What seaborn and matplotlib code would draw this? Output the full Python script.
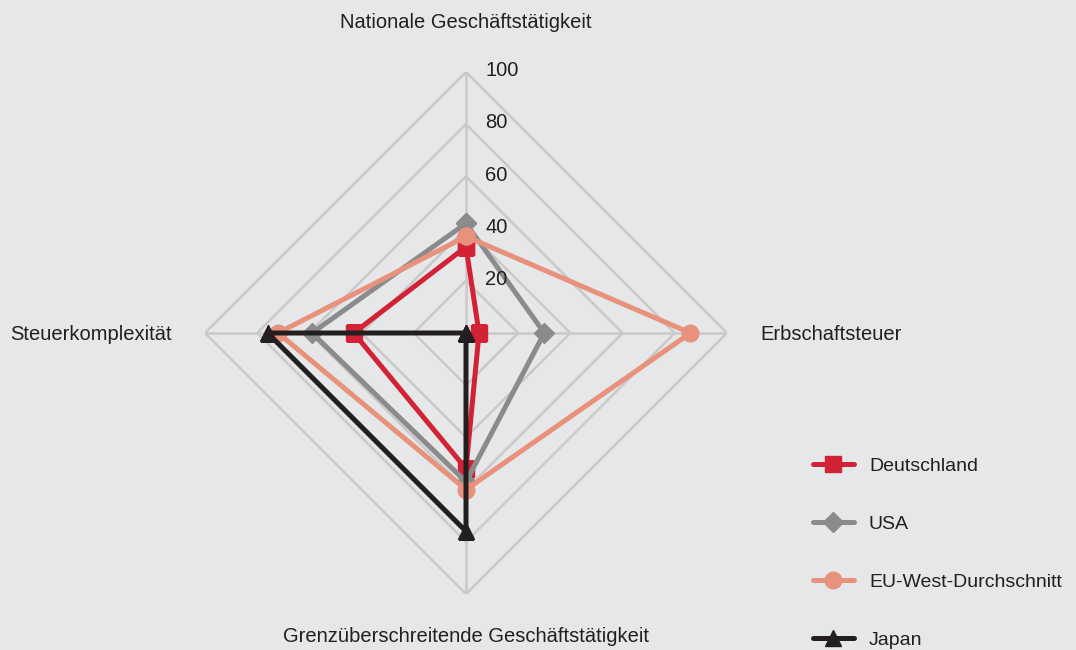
import numpy as np
import matplotlib

matplotlib.use("Agg")
import matplotlib.pyplot as plt
import seaborn as sns
from matplotlib.lines import Line2D

# ===================== data =====================
categories = ["Nationale Geschäftstätigkeit", "Erbschaftsteuer",
              "Grenzüberschreitende Geschäftstätigkeit", "Steuerkomplexität"]
deutschland = [33, 5, 52, 43]
usa = [42, 30, 57, 59]
eu_west = [37, 86, 60, 72]
japan = [0, 0, 76, 76]
r_ticks = [20, 40, 60, 80, 100]

series = [
    ("Deutschland", deutschland, "#d12236", "s"),
    ("USA", usa, "#8a8b8d", "D"),
    ("EU-West-Durchschnitt", eu_west, "#e8927d", "o"),
    ("Japan", japan, "#231f20", "^"),
]

bg = "#e6e7e8"
grid_c = "#c9c9ca"
text_c = "#231f20"
fs = 14.5

sns.set_theme(style="white")
plt.rcParams["font.family"] = ["Liberation Sans", "DejaVu Sans"]

fig = plt.figure(figsize=(10.76, 6.5), dpi=100, facecolor=bg)
cx, cy, rad = 466, 333, 261
ax = fig.add_axes([(cx - rad) / 1076, (650 - cy - rad) / 650, 2 * rad / 1076, 2 * rad / 650],
                  projection="polar")
ax.set_facecolor(bg)
ax.set_theta_offset(np.pi / 2)
ax.set_theta_direction(-1)
ax.set_ylim(0, 100)
ax.grid(False)
ax.spines["polar"].set_visible(False)
ax.set_xticks([])
ax.set_yticks([])

angles = np.linspace(0, 2 * np.pi, len(categories), endpoint=False)
closed = np.append(angles, angles[0])

# diamond grid + spokes
for r in r_ticks:
    ax.plot(closed, [r] * len(closed), color=grid_c, lw=1.8, zorder=1)
for a in angles:
    ax.plot([a, a], [0, 100], color=grid_c, lw=1.8, zorder=1)
for r in r_ticks:
    ax.annotate(str(r), xy=(0, r), xytext=(14, 1), textcoords="offset points",
                ha="left", va="center", fontsize=fs, color=text_c, zorder=5)

# series
for name, vals, col, mk in series:
    v = vals + vals[:1]
    ax.plot(closed, v, color=col, lw=3.6, marker=mk, markersize=12 if mk != "D" else 10,
            solid_capstyle="round", zorder=3)

# category labels
fig.text(cx / 1076, 1 - 22 / 650, categories[0], ha="center", va="center", fontsize=fs, color=text_c)
fig.text(760 / 1076, 1 - 335 / 650, categories[1], ha="left", va="center", fontsize=fs, color=text_c)
fig.text(cx / 1076, 1 - 636 / 650, categories[2], ha="center", va="center", fontsize=fs, color=text_c)
fig.text(172 / 1076, 1 - 335 / 650, categories[3], ha="right", va="center", fontsize=fs, color=text_c)

handles = [Line2D([0], [0], color=col, lw=3.6, marker=mk, markersize=12 if mk != "D" else 10,
                  solid_capstyle="round") for _, _, col, mk in series]
fig.legend(handles, [s[0] for s in series], loc="center left",
           bbox_to_anchor=(795 / 1076, 1 - 553 / 650), frameon=False, fontsize=14,
           labelspacing=2.08, handlelength=2.15, handletextpad=0.75, labelcolor=text_c)

fig.savefig("out.png", dpi=100, facecolor=bg)
